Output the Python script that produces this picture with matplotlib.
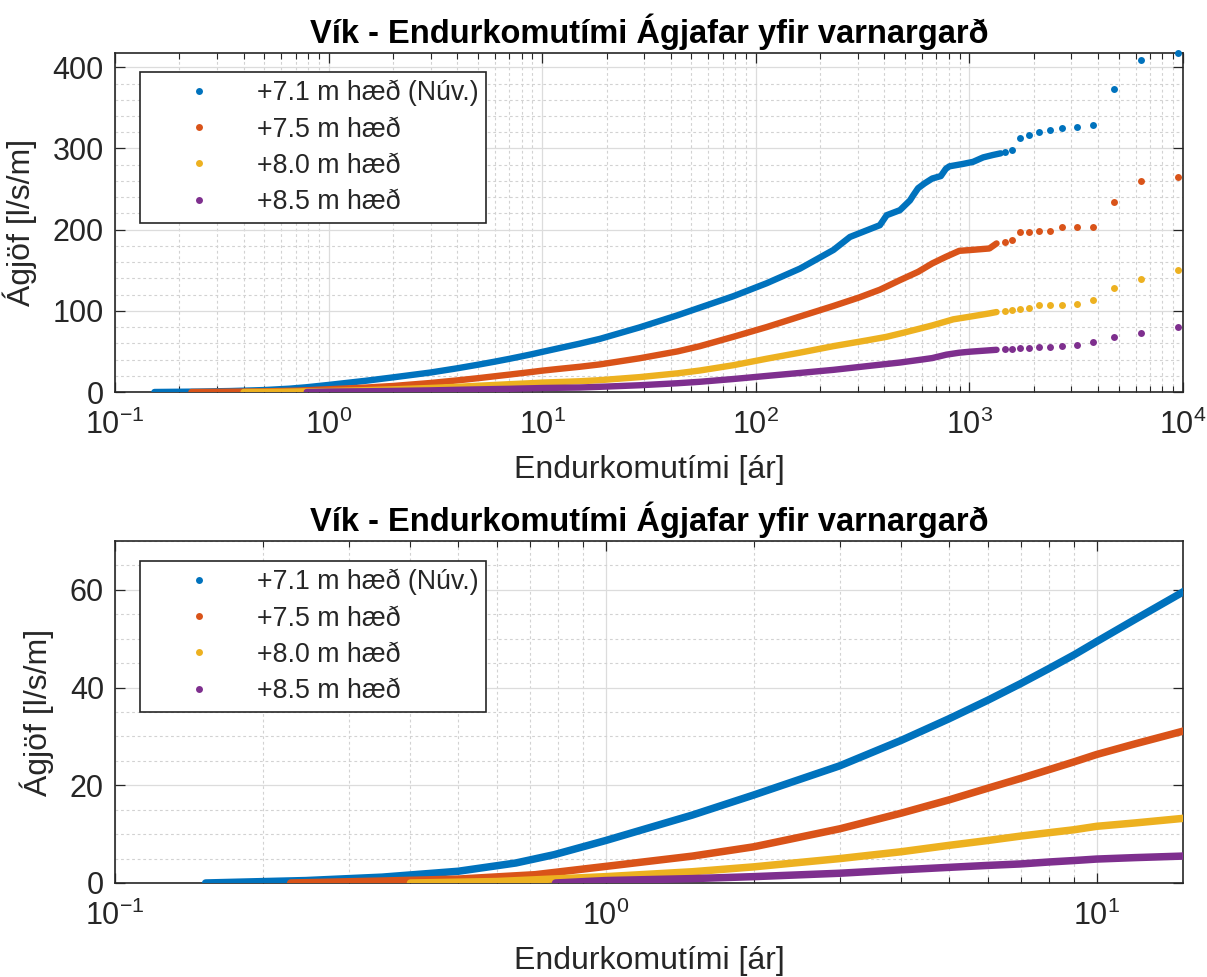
import matplotlib.pyplot as plt
from matplotlib.ticker import LogLocator, MultipleLocator, NullFormatter

plt.rcParams['font.family'] = ['Liberation Sans', 'DejaVu Sans']
plt.rcParams['mathtext.default'] = 'regular'

labels = ['+7.1 m hæð (Núv.)', '+7.5 m hæð', '+8.0 m hæð', '+8.5 m hæð']
colors = ['#0072BD', '#D95319', '#EDB120', '#7E2F8E']

# densely packed part of each curve: return period [years] and overtopping [l/s/m]
ar_71 = [0.153, 0.245, 0.35, 0.5, 0.656, 0.785, 1.0, 1.5, 2, 3, 4, 5, 6, 7, 8, 9, 10, 12, 14.9,
         18.65, 28.5, 43, 54.8, 78.5, 112.5, 161, 231, 276, 381, 410, 473, 527, 545, 575, 617,
         670, 735, 776, 806, 935, 1040, 1160, 1290, 1400]
q_71 = [0.0, 0.5, 1.2, 2.4, 4.1, 5.8, 8.7, 13.9, 18.0, 24.0, 29.2, 33.6, 37.4, 40.8, 43.9, 46.7, 49.4, 54.0, 59.4,
        65.5, 79.5, 94.5, 104, 118, 134, 152, 175, 191, 205.5, 217.8, 224, 236, 242, 251, 257,
        263, 266, 275, 278, 281, 283.5, 289, 292, 294]

ar_75 = [0.228, 0.35, 0.5, 0.718, 1.0, 1.5, 2, 3, 4, 5, 6, 7, 8, 9, 10, 12, 14.9,
         18.65, 28.5, 43, 54.8, 78.5, 112.5, 161, 231, 305, 381, 473, 575, 670, 776, 897, 1000, 1240, 1340]
q_75 = [0.0, 0.4, 0.8, 1.7, 3.4, 5.5, 7.4, 11.1, 14.3, 17.0, 19.4, 21.4, 23.2, 24.8, 26.3, 28.5, 31.0,
        34, 41.5, 50, 56.5, 68, 80, 93, 106, 116.5, 126, 137.8, 148, 158.4, 166.5, 173.9, 174.8, 176.8, 183]

ar_80 = [0.40, 0.6, 1.0, 1.5, 2, 3, 4, 5, 6, 7, 8, 9, 10, 12, 14.9,
         18.65, 28.5, 43, 54.8, 78.5, 112.5, 161, 231, 330, 410, 500, 670, 840, 1000, 1240, 1340]
q_80 = [0.0, 0.3, 1.3, 2.3, 3.3, 5.0, 6.4, 7.7, 8.7, 9.6, 10.3, 10.9, 11.6, 12.3, 13.2,
        14.6, 18.3, 23, 26.5, 33, 41, 48.5, 56.5, 63.5, 68, 73.5, 82, 89.5, 92.7, 96.8, 98.5]

ar_85 = [0.79, 1.0, 1.5, 2, 3, 4, 5, 6, 7, 8, 9, 10, 12, 14.9,
         18.65, 28.5, 43, 54.8, 78.5, 112.5, 161, 231, 343, 473, 600, 670, 780, 897, 1000, 1340]
q_85 = [0.0, 0.5, 0.9, 1.3, 2.0, 2.7, 3.2, 3.6, 3.9, 4.3, 4.6, 4.9, 5.2, 5.5,
        6.4, 8.3, 10.8, 12.6, 16, 19.8, 23.5, 27.3, 32.3, 36.3, 40, 41.8, 46, 48.4, 49.6, 52.0]

# sparse upper tail, same return periods for all crest heights
ar_tail = [1460, 1580, 1727, 1900, 2118, 2385, 2714, 3190, 3793, 4753, 6340, 9500]
q_tail_71 = [295.8, 297.8, 313.4, 317, 320.4, 323.3, 325.3, 326.6, 328.6, 373.7, 409.4, 417.6]
q_tail_75 = [184.2, 187, 196.5, 196.5, 198, 198.5, 202.7, 202.7, 202.7, 234.2, 259.7, 265]
q_tail_80 = [99.5, 100.5, 101.7, 104, 106.7, 106.7, 106.7, 109, 113, 127.6, 139, 150]
q_tail_85 = [52.5, 53.0, 53.7, 54.6, 55.8, 55.8, 57, 57.8, 62, 68, 72.2, 79.6]

dense = [(ar_71, q_71), (ar_75, q_75), (ar_80, q_80), (ar_85, q_85)]
tails = [q_tail_71, q_tail_75, q_tail_80, q_tail_85]

title = 'Vík - Endurkomutími Ágjafar yfir varnargarð'
dark = '#262626'


def draw(ax, lw, clip):
    for i in range(4):
        x, y = dense[i]
        ax.plot(x, y, color=colors[i], lw=lw, solid_capstyle='round',
                solid_joinstyle='round', zorder=3 + i)
        ax.plot(ar_tail, tails[i], 'o', ms=5, mew=0, color=colors[i],
                label=labels[i], zorder=3 + i, clip_on=clip)


def style(ax, ymajor, yminor, leg_top):
    ax.set_xscale('log')
    ax.xaxis.set_major_locator(LogLocator(base=10, numticks=20))
    ax.xaxis.set_minor_locator(LogLocator(base=10, subs=range(2, 10), numticks=20))
    ax.xaxis.set_minor_formatter(NullFormatter())
    ax.yaxis.set_major_locator(MultipleLocator(ymajor))
    ax.yaxis.set_minor_locator(MultipleLocator(yminor))
    ax.grid(which='major', color='#dcdcdc', lw=0.9, ls='-')
    ax.grid(which='minor', color='#d2d2d2', lw=0.8, ls=(0, (2.5, 2.5)))
    ax.set_axisbelow(True)
    ax.tick_params(which='both', direction='in', top=True, right=True,
                   colors=dark, labelsize=22)
    ax.tick_params(which='major', length=7, width=0.9)
    ax.tick_params(axis='x', which='minor', length=4, width=0.8)
    ax.tick_params(axis='y', which='minor', length=0)
    ax.tick_params(axis='x', which='major', pad=13)
    ax.tick_params(axis='y', which='major', pad=8)
    for s in ax.spines.values():
        s.set_color(dark)
        s.set_linewidth(1.2)
    ax.set_title(title, fontsize=23.5, fontweight='bold', pad=7)
    ax.set_xlabel('Endurkomutími [ár]', fontsize=23, color=dark, labelpad=10)
    ax.set_ylabel('Ágjöf [l/s/m]', fontsize=23, color=dark, labelpad=11)
    leg = ax.legend(loc='upper left', bbox_to_anchor=(0.0234, leg_top), borderaxespad=0,
                    fancybox=False, edgecolor=dark, framealpha=1, fontsize=19.3,
                    handlelength=3.8, handletextpad=0.25, labelspacing=0.38, borderpad=0.3)
    leg.get_frame().set_linewidth(1.2)
    for t in leg.get_texts():
        t.set_color(dark)


fig = plt.figure(figsize=(12.07, 9.77), dpi=100)
W, H = 1207, 977
ax1 = fig.add_axes([115 / W, 1 - 392 / H, 1068 / W, 339 / H])
ax2 = fig.add_axes([115 / W, 1 - 883 / H, 1068 / W, 342 / H])

draw(ax1, 4.6, False)
style(ax1, 100, 20, 0.944)
ax1.set_xlim(0.1, 1e4)
ax1.set_ylim(0, max(q_tail_71))

draw(ax2, 5.4, True)
style(ax2, 20, 5, 0.9415)
ax2.set_xlim(0.1, 15)
ax2.set_ylim(0, 70)

fig.savefig('out.png', dpi=100)
